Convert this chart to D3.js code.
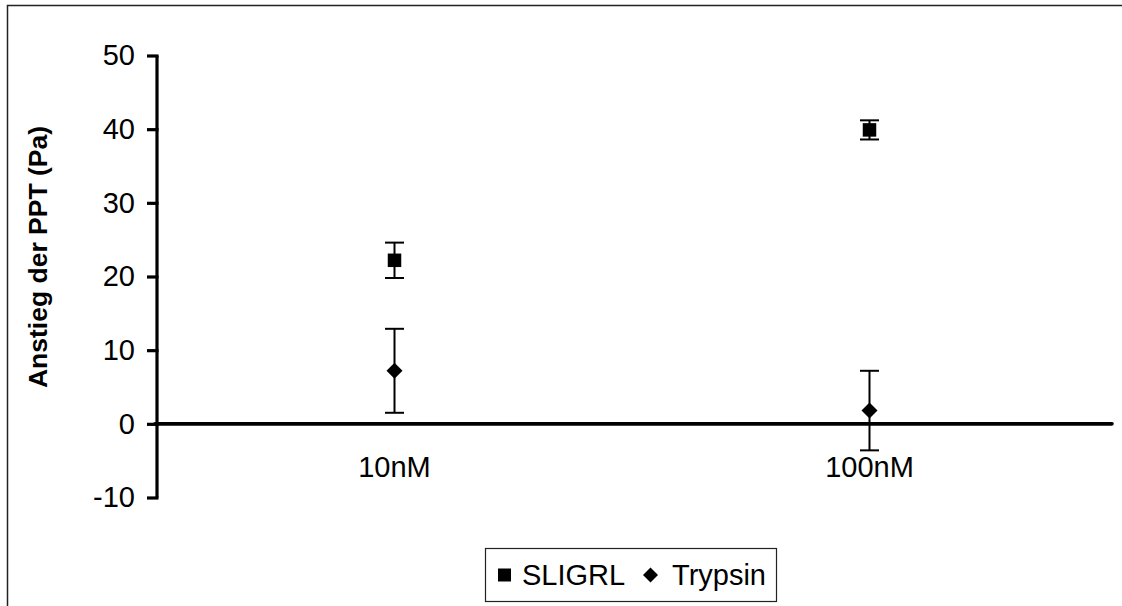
<!DOCTYPE html>
<html>
<head>
<meta charset="utf-8">
<script src="https://cdn.jsdelivr.net/npm/d3@7"></script>
<style>
  html, body { margin: 0; padding: 0; background: #fff; }
  svg { display: block; }
  text { font-family: "Liberation Sans", Arial, sans-serif; fill: #000; }
</style>
</head>
<body>
<svg id="chart" width="1122" height="606"></svg>
<script>
// Concentrations on the x axis
const categories = ["10nM", "100nM"];
// Mean rise of PPT (Pa) and error (±) per series
const sligrlValues = [22.2, 39.9];
const sligrlErrors = [2.4, 1.3];
const trypsinValues = [7.2, 1.8];
const trypsinErrors = [5.7, 5.4];
const seriesNames = ["SLIGRL", "Trypsin"];
const yTicks = [-10, 0, 10, 20, 30, 40, 50];

const FONT = "29px";
const svg = d3.select("#chart");

// Outer frame (top and left edges)
svg.append("path")
  .attr("d", "M7.5,606 L7.5,5.5 L1122,5.5")
  .attr("fill", "none")
  .attr("stroke", "#222")
  .attr("stroke-width", 1.5);

const x = d3.scalePoint().domain(categories).range([157, 1107]).padding(0.5);
const y = d3.scaleLinear().domain([-10, 50]).range([497.5, 55.5]);

// Y axis
const yAxis = d3.axisLeft(y).tickValues(yTicks).tickSize(10).tickPadding(12)
  .tickFormat(d => String(d));
const gy = svg.append("g").attr("transform", "translate(157,0)").call(yAxis);
gy.select(".domain").attr("d", `M0,${y(50)}V${y(-10)}`).attr("stroke", "#000").attr("stroke-width", 3.2);
gy.selectAll(".tick line").attr("stroke", "#000").attr("stroke-width", 3.2).attr("x1", 1.5);
gy.selectAll(".tick text")
  .style("font-size", FONT)
  .style("font-family", "'Liberation Sans', Arial, sans-serif")
  .attr("fill", "#000");

// Zero line (x axis)
svg.append("line")
  .attr("x1", 155).attr("x2", 1112)
  .attr("y1", y(0)).attr("y2", y(0))
  .attr("stroke", "#000").attr("stroke-width", 3.6)
  .attr("stroke-linecap", "round");

// Category labels
svg.selectAll(".cat")
  .data(categories)
  .join("text")
  .attr("class", "cat")
  .attr("x", d => x(d))
  .attr("y", 477)
  .attr("text-anchor", "middle")
  .style("font-size", FONT)
  .text(d => d);

// Y axis title
svg.append("text")
  .attr("transform", "translate(47,257) rotate(-90)")
  .attr("text-anchor", "middle")
  .style("font-size", "26.5px")
  .style("font-weight", "bold")
  .text("Anstieg der PPT (Pa)");

// Error bars
function errorBars(values, errors, cls) {
  const data = categories.map((c, i) => ({ c, v: values[i], e: errors[i] }));
  const g = svg.append("g").attr("class", cls).attr("stroke", "#000").attr("stroke-width", 2);
  g.selectAll("line.stem").data(data).join("line")
    .attr("class", "stem")
    .attr("x1", d => x(d.c)).attr("x2", d => x(d.c))
    .attr("y1", d => y(d.v + d.e)).attr("y2", d => y(d.v - d.e));
  g.selectAll("line.top").data(data).join("line")
    .attr("class", "top")
    .attr("x1", d => x(d.c) - 9.5).attr("x2", d => x(d.c) + 9.5)
    .attr("y1", d => y(d.v + d.e)).attr("y2", d => y(d.v + d.e));
  g.selectAll("line.bot").data(data).join("line")
    .attr("class", "bot")
    .attr("x1", d => x(d.c) - 9.5).attr("x2", d => x(d.c) + 9.5)
    .attr("y1", d => y(d.v - d.e)).attr("y2", d => y(d.v - d.e));
}
errorBars(sligrlValues, sligrlErrors, "err-sligrl");
errorBars(trypsinValues, trypsinErrors, "err-trypsin");

const squareSym = d3.symbol().type(d3.symbolSquare).size(13.5 * 13.5);
const diamondPath = s => `M0,${-s}L${s},0L0,${s}L${-s},0Z`;

// SLIGRL markers
svg.append("g").selectAll("path")
  .data(categories.map((c, i) => ({ c, v: sligrlValues[i] })))
  .join("path")
  .attr("transform", d => `translate(${x(d.c)},${y(d.v)})`)
  .attr("d", squareSym)
  .attr("fill", "#000");

// Trypsin markers
svg.append("g").selectAll("path")
  .data(categories.map((c, i) => ({ c, v: trypsinValues[i] })))
  .join("path")
  .attr("transform", d => `translate(${x(d.c)},${y(d.v)})`)
  .attr("d", diamondPath(8))
  .attr("fill", "#000");

// Legend
const lg = svg.append("g").attr("class", "legend");
lg.append("rect")
  .attr("x", 485.5).attr("y", 548.5)
  .attr("width", 291).attr("height", 53)
  .attr("fill", "#fff").attr("stroke", "#222").attr("stroke-width", 1.2);
lg.append("path")
  .attr("transform", "translate(504.5,575)")
  .attr("d", d3.symbol().type(d3.symbolSquare).size(13 * 13)())
  .attr("fill", "#000");
lg.append("text").attr("x", 522).attr("y", 585).style("font-size", FONT).text(seriesNames[0]);
lg.append("path")
  .attr("transform", "translate(650.5,575)")
  .attr("d", diamondPath(7.5))
  .attr("fill", "#000");
lg.append("text").attr("x", 672).attr("y", 585).style("font-size", FONT).text(seriesNames[1]);
</script>
</body>
</html>
